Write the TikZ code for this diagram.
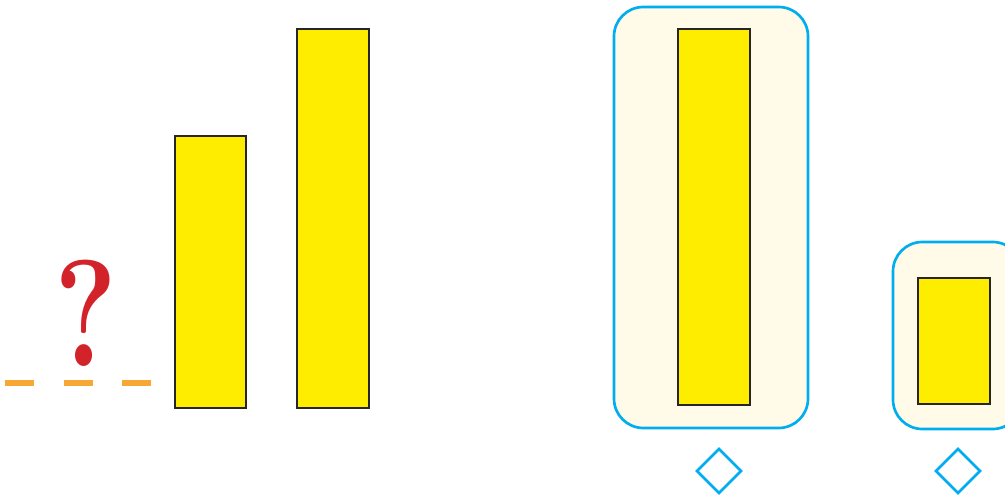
\documentclass[tikz,border=0pt]{standalone}
\usepackage{tikz}
\usetikzlibrary{calc}
\definecolor{baryellow}{RGB}{255,237,0}
\definecolor{boxcream}{RGB}{255,251,232}
\definecolor{boxblue}{RGB}{0,174,239}
\definecolor{dashorange}{RGB}{247,167,52}
\definecolor{qred}{RGB}{210,35,42}
\tikzset{
  bar/.style={fill=baryellow, draw=black!85, line width=0.8pt},
  holder/.style={fill=boxcream, draw=boxblue, line width=2pt, rounded corners=22pt},
  mark diamond/.style={draw=boxblue, line width=2pt},
}
\begin{document}
\begin{tikzpicture}[x=0.75pt,y=-0.75pt]
      % Picture frame
      \useasboundingbox (0,0) rectangle (1005,495);
      \clip (0,0) rectangle (1005,495);
      % Left group: dashed base line and question mark
      \draw[dashorange, line width=3.8pt, dash pattern=on 22pt off 22pt] (5,383) -- (151,383);
      \node[qred, anchor=south, inner sep=0pt, xscale=0.78, font=\fontsize{114}{114}\selectfont\bfseries] (qmark) at (86,367) {?};
      % Left group: two bars
      \draw[bar] (175,136) rectangle (246,408);
      \draw[bar] (297,29) rectangle (369,408);
      % Right group: tall bar in its holder
      \draw[holder] (614,7) rectangle (808,428);
      \draw[bar] (678,29) rectangle (750,405);
      % Right group: short bar in its holder
      \draw[holder] (893,242) rectangle (1022,429);
      \draw[bar] (918,278) rectangle (990,404);
      % Diamonds under the holders
      \draw[mark diamond] (719,449) -- (741,471) -- (719,493) -- (697,471) -- cycle;
      \draw[mark diamond] (958,449) -- (980,471) -- (958,493) -- (936,471) -- cycle;
\end{tikzpicture}
\end{document}
